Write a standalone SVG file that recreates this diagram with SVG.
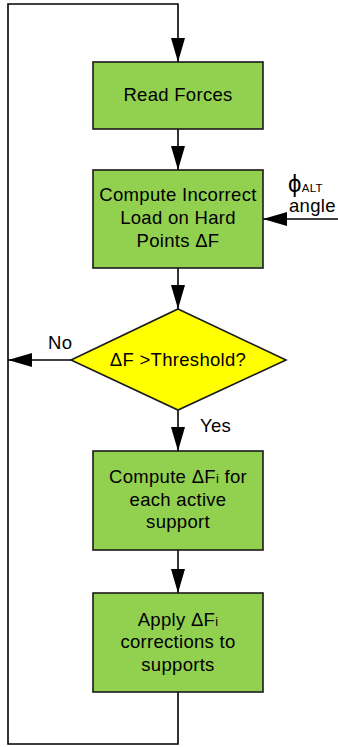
<svg xmlns="http://www.w3.org/2000/svg" width="338" height="747" viewBox="0 0 338 747">
<style>
.box{fill:#92D050;stroke:#1a1a1a;stroke-width:1.6}
.dia{fill:#FFFF00;stroke:#1a1a1a;stroke-width:1.6}
.t{font-family:"Liberation Sans",Arial,sans-serif;font-size:18.5px;letter-spacing:0.3px;fill:#000;text-anchor:middle}
.l{font-family:"Liberation Sans",Arial,sans-serif;font-size:18.5px;letter-spacing:0.3px;fill:#000}
.c{fill:none;stroke:#000;stroke-width:1.6}
.sub{font-size:12.5px}
</style>
<defs>
<marker id="ah" markerUnits="userSpaceOnUse" markerWidth="24" markerHeight="14" refX="24" refY="7" orient="auto">
<path d="M0,0 L24,7 L0,14 z" fill="#000"/>
</marker>
</defs>
<rect width="338" height="747" fill="#fff"/>
<g id="connectors">
<path class="c" d="M178,692 V744 H8 V4 H178 V62" marker-end="url(#ah)"/>
<path class="c" d="M178,129 V170" marker-end="url(#ah)"/>
<path class="c" d="M178,268 V309" marker-end="url(#ah)"/>
<path class="c" d="M71,360 H8" marker-end="url(#ah)"/>
<path class="c" d="M178,410 V451" marker-end="url(#ah)"/>
<path class="c" d="M178,550 V593" marker-end="url(#ah)"/>
<path class="c" d="M338,219 H263" marker-end="url(#ah)"/>
<text class="l" x="48" y="349">No</text>
<text class="l" x="200" y="432">Yes</text>
<text class="l" x="288" y="192" style="font-size:24px">ϕ<tspan style="font-size:11.5px">ALT</tspan></text>
<text class="l" x="289" y="212">angle</text>
</g>
<g id="read-forces">
<rect class="box" x="93" y="62" width="170" height="67"/>
<text class="t" x="178" y="101">Read Forces</text>
</g>
<g id="compute-incorrect">
<rect class="box" x="93" y="170" width="170" height="98"/>
<text class="t" x="178" y="201">Compute Incorrect</text>
<text class="t" x="178" y="224">Load on Hard</text>
<text class="t" x="178" y="247">Points ΔF</text>
</g>
<g id="threshold">
<polygon class="dia" points="178,309 286,360 178,410 71,360"/>
<text class="t" x="178" y="366">ΔF &gt;Threshold?</text>
</g>
<g id="compute-dfi">
<rect class="box" x="93" y="451" width="170" height="99"/>
<text class="t" x="178" y="483">Compute ΔF<tspan class="sub">i</tspan> for</text>
<text class="t" x="178" y="506">each active</text>
<text class="t" x="178" y="528">support</text>
</g>
<g id="apply-dfi">
<rect class="box" x="93" y="593" width="170" height="99"/>
<text class="t" x="178" y="626">Apply ΔF<tspan class="sub">i</tspan></text>
<text class="t" x="178" y="648">corrections to</text>
<text class="t" x="178" y="671">supports</text>
</g>
</svg>
